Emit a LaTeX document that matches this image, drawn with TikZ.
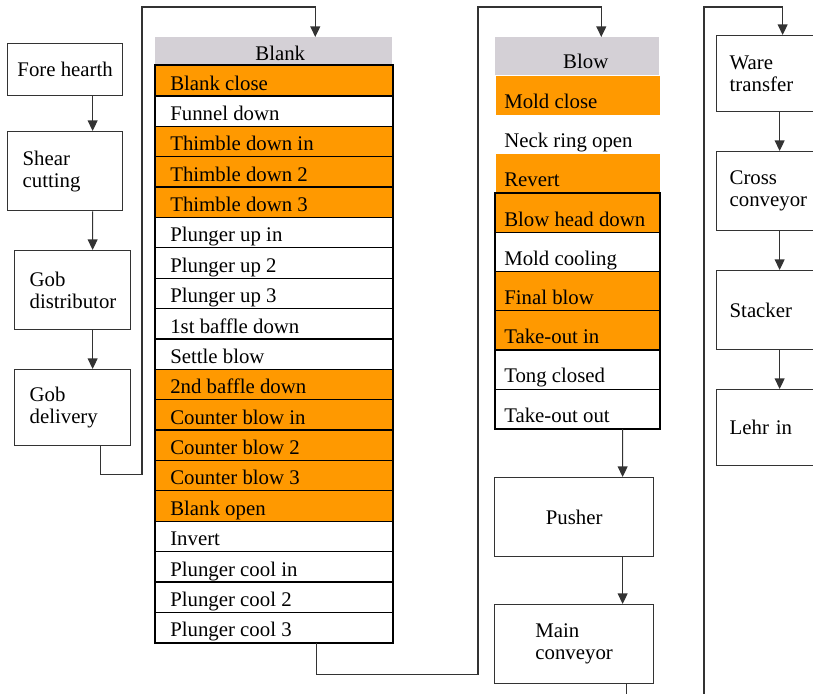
\documentclass[tikz,border=0pt]{standalone}
\usepackage{fontspec}
\setmainfont{Liberation Serif}
\usetikzlibrary{arrows.meta}

\definecolor{stepOrange}{RGB}{255,153,0}
\definecolor{headGray}{RGB}{212,208,214}

\begin{document}
\begin{tikzpicture}[x=0.025cm, y=-0.025cm, font=\fontsize{14.8}{15.6}\selectfont]
    % Unit and row heights
    \def\px{0.025cm}
    \def\bh{30.368}  % row height, blank side
    \def\wh{39.2}    % row height, blow side

    \tikzset{
      box/.style={draw=black!80, line width=0.9pt, anchor=north west, inner sep=0pt, align=left},
      flow/.style={draw=black!80, line width=0.85pt, -{Triangle[length=7.5pt,width=7pt]}},
      headbox/.style={anchor=north west, inner sep=0pt, fill=headGray},
      rowbox/.style={anchor=north west, inner sep=0pt, line width=0.9pt},
      rowtext/.style={anchor=base west, inner sep=0pt},
    }

    \useasboundingbox (0,0) rectangle (813,694);
    \clip (0,0) rectangle (813,694);

    % Feeder boxes on the left
    \node[box, minimum width=115*\px, minimum height=52*\px, align=center] (fore) at (7,43) {Fore hearth};
    \node[box, minimum width=115*\px, minimum height=79*\px, text width=85*\px] (shear) at (7,131) {Shear\\cutting};
    \node[box, minimum width=116*\px, minimum height=79*\px, text width=86*\px] (gobdist) at (14,250) {Gob\\distributor};
    \node[box, minimum width=116*\px, minimum height=76*\px, text width=86*\px] (gobdel) at (14,369) {Gob\\delivery};

    \draw[flow] ([xshift=27.5*\px]fore.south) -- ([xshift=27.5*\px]shear.north);
    \draw[flow] ([xshift=27.5*\px]shear.south) -- ([xshift=20*\px]gobdist.north);
    \draw[flow] ([xshift=20*\px]gobdist.south) -- ([xshift=20*\px]gobdel.north);

    % Blank side steps
    \node[headbox, minimum width=237*\px, minimum height=28*\px] (blankhead) at (155,37) {};
    \node[anchor=base, inner sep=0pt] (blanktitle) at ([xshift=6.5*\px, yshift=5*\px]blankhead.south) {Blank};

    \foreach \txt/\clr [count=\i] in {Blank close/stepOrange, Funnel down/white,
        Thimble down in/stepOrange, Thimble down 2/stepOrange, Thimble down 3/stepOrange,
        Plunger up in/white, Plunger up 2/white, Plunger up 3/white, 1st baffle down/white,
        Settle blow/white, 2nd baffle down/stepOrange, Counter blow in/stepOrange,
        Counter blow 2/stepOrange, Counter blow 3/stepOrange, Blank open/stepOrange,
        Invert/white, Plunger cool in/white, Plunger cool 2/white, Plunger cool 3/white} {
      \node[rowbox, fill=\clr, draw=black, minimum width=237*\px, minimum height=\bh*\px] (b\i) at (155, {65+(\i-1)*\bh}) {};
      \node[rowtext] (bt\i) at ([xshift=15*\px, yshift=6.5*\px]b\i.south west) {\txt};
    }
    \draw[line width=1.4pt] (b1.north west) rectangle (b19.south east);

    % Blow side steps
    \node[headbox, minimum width=164*\px, minimum height=38*\px] (blowhead) at (495,37) {};
    \node[anchor=base, inner sep=0pt] (blowtitle) at ([xshift=8.5*\px, yshift=7*\px]blowhead.south) {Blow};

    \foreach \txt/\clr/\edge [count=\i] in {Mold close/stepOrange/none, Neck ring open/white/none,
        Revert/stepOrange/none, Blow head down/stepOrange/black, Mold cooling/white/black,
        Final blow/stepOrange/black, Take-out in/stepOrange/black, Tong closed/white/black,
        Take-out out/white/black} {
      \node[rowbox, fill=\clr, draw=\edge, minimum width=164*\px, minimum height=\wh*\px] (bw\i) at (495, {75+(\i-1)*\wh}) {};
      \node[rowtext] (bwt\i) at ([xshift=9*\px, yshift=7*\px]bw\i.south west) {\txt};
    }
    \draw[line width=1.4pt] (bw4.north west) rectangle (bw9.south east);

    % Conveyors after the blow side
    \node[box, minimum width=159*\px, minimum height=79*\px, align=center] (pusher) at (494,477) {Pusher};
    \node[box, minimum width=159*\px, minimum height=79*\px] (mainconv) at (494,604) {Main\\conveyor};

    % Cold end boxes
    \node[box, minimum width=126*\px, minimum height=76*\px, text width=100*\px] (ware) at (716,35) {Ware\\transfer};
    \node[box, minimum width=126*\px, minimum height=79*\px, text width=100*\px] (cross) at (716,151) {Cross\\conveyor};
    \node[box, minimum width=126*\px, minimum height=79*\px, text width=100*\px] (stacker) at (716,270) {Stacker};
    \node[box, minimum width=126*\px, minimum height=76*\px, text width=100*\px] (lehr) at (716,389) {Lehr in};

    % Links between the stages
    \draw[flow] ([xshift=28*\px]gobdel.south) -- ++(0,28) -| (142,7) -| ([xshift=41.5*\px]blankhead.north);
    \draw[flow] ([xshift=42.5*\px]b19.south) -- ++(0,31) -| (478,7) -| ([xshift=24*\px]blowhead.north);
    \draw[flow] ([xshift=45*\px]bw9.south) -- ([xshift=48.5*\px]pusher.north);
    \draw[flow] ([xshift=48.5*\px]pusher.south) -- ([xshift=48.5*\px]mainconv.north);
    \draw[flow] ([xshift=52.5*\px]mainconv.south) -- ++(0,40) -| (704,7) -| ([xshift=3*\px]ware.north);
    \draw[flow] (ware) -- (cross);
    \draw[flow] (cross) -- (stacker);
    \draw[flow] (stacker) -- (lehr);
\end{tikzpicture}
\end{document}
